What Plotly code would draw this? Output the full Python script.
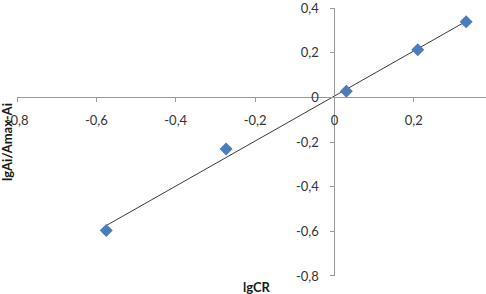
import numpy as np
import plotly.graph_objects as go

# Data
lg_cr = [-0.575, -0.273, 0.030, 0.210, 0.332]
lg_ratio = [-0.596, -0.231, 0.027, 0.213, 0.338]

x_tick_vals = [-0.8, -0.6, -0.4, -0.2, 0, 0.2, 0.4]
x_tick_text = ["-0,8", "-0,6", "-0,4", "-0,2", "0", "0,2", "0,4"]
y_tick_vals = [-0.8, -0.6, -0.4, -0.2, 0, 0.2, 0.4]
y_tick_text = ["-0,8", "-0,6", "-0,4", "-0,2", "0", "0,2", "0,4"]

x_range = [-0.8, 0.382]
y_range = [-0.8001, 0.4001]

# Linear trendline from the data
slope, intercept = np.polyfit(lg_cr, lg_ratio, 1)
trend_x = [min(lg_cr), max(lg_cr)]
trend_y = [slope * v + intercept for v in trend_x]

fig = go.Figure()
fig.add_trace(go.Scatter(x=trend_x, y=trend_y, mode="lines",
                         line=dict(color="#3a3a3a", width=1), showlegend=False))
fig.add_trace(go.Scatter(x=lg_cr, y=lg_ratio, mode="markers",
                         marker=dict(symbol="diamond", size=10, color="#4A7EBB",
                                     line=dict(width=0)),
                         showlegend=False))

font = dict(family="Lato, Open Sans, sans-serif", size=13, color="#333333")
title_font = dict(family="Lato, Open Sans, sans-serif", size=13, color="#1a1a1a")

x_pos = (0 - y_range[0]) / (y_range[1] - y_range[0])
y_pos = (0 - x_range[0]) / (x_range[1] - x_range[0])

fig.update_layout(
    width=486, height=294,
    margin=dict(l=17, r=0, t=8, b=18, autoexpand=False),
    paper_bgcolor="white", plot_bgcolor="white",
    font=font,
    xaxis=dict(range=x_range, tickvals=x_tick_vals, ticktext=x_tick_text,
               anchor="free", position=x_pos, automargin=False,
               ticklabeloverflow="allow",
               showline=True, linecolor="#9a9a9a", linewidth=1,
               ticks="outside", ticklen=4, tickcolor="#9a9a9a",
               showgrid=False, zeroline=False, tickfont=font, ticklabelstandoff=7),
    yaxis=dict(range=y_range, tickvals=y_tick_vals, ticktext=y_tick_text,
               anchor="free", position=y_pos, automargin=False,
               ticklabeloverflow="allow",
               showline=True, linecolor="#9a9a9a", linewidth=1,
               ticks="outside", ticklen=4, tickcolor="#9a9a9a",
               showgrid=False, zeroline=False, tickfont=font, ticklabelstandoff=9),
    annotations=[
        dict(text="<b>lgCR</b>", xref="paper", yref="paper",
             x=(257 - 17) / 469, y=(276 - 287) / 268, showarrow=False,
             xanchor="center", yanchor="middle", font=title_font),
        dict(text="<b>lgAi/Amax-Ai</b>", xref="paper", yref="paper",
             x=(7 - 17) / 469, y=(276 - 142) / 268, showarrow=False, textangle=-90,
             xanchor="center", yanchor="middle", font=title_font),
    ],
)

fig.write_html("out.html", config={"displayModeBar": False},
               post_script="document.body.style.margin='0';")
